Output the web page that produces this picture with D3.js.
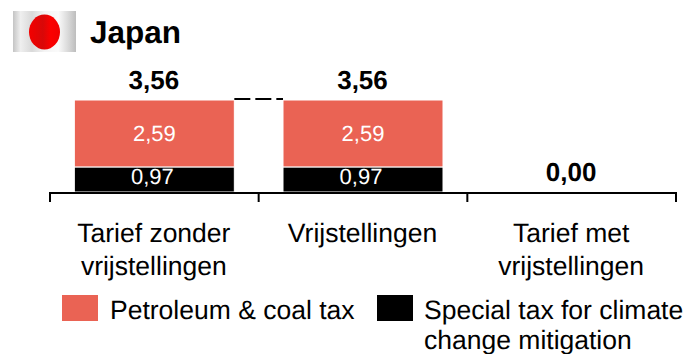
<!DOCTYPE html>
<html>
<head>
<meta charset="utf-8">
<script src="https://cdn.jsdelivr.net/npm/d3@7"></script>
<style>
  html, body { margin: 0; padding: 0; background: #fff; }
  svg { display: block; }
  text { font-family: "Liberation Sans", Arial, sans-serif; fill: #000; text-rendering: geometricPrecision; }
</style>
</head>
<body>
<div id="chart"></div>
<script>
var title = 'Japan';
var categories = ['Tarief zonder vrijstellingen', 'Vrijstellingen', 'Tarief met vrijstellingen'];
var categoryLines = [['Tarief zonder', 'vrijstellingen'], ['Vrijstellingen'], ['Tarief met', 'vrijstellingen']];
var seriesNames = ['Special tax for climate change mitigation', 'Petroleum & coal tax'];
var climateTax = [0.97, 0.97, 0];
var petroleumTax = [2.59, 2.59, 0];
var totals = [3.56, 3.56, 0];

var width = 687, height = 354;
var red = '#ea6354';
var fmt = function(v) { return d3.format('.2f')(v).replace('.', ','); };

var svg = d3.select('#chart').append('svg')
  .attr('width', width)
  .attr('height', height);

// flag
var defs = svg.append('defs');
var wave = defs.append('linearGradient').attr('id', 'wave');
[[0, '#c4c4c4'], [0.12, '#efefef'], [0.3, '#d9d9d9'], [0.5, '#f4f4f4'], [0.72, '#fafafa'], [0.88, '#d8d8d8'], [1, '#bdbdbd']]
  .forEach(function(s) { wave.append('stop').attr('offset', s[0]).attr('stop-color', s[1]); });
var sun = defs.append('linearGradient').attr('id', 'sun');
[[0, '#f40000'], [0.45, '#d80808'], [0.7, '#fb0000'], [1, '#f00000']]
  .forEach(function(s) { sun.append('stop').attr('offset', s[0]).attr('stop-color', s[1]); });
svg.append('rect').attr('x', 13).attr('y', 11).attr('width', 63).attr('height', 41).attr('fill', 'url(#wave)');
svg.append('ellipse').attr('cx', 44.5).attr('cy', 32).attr('rx', 15.5).attr('ry', 17.5).attr('fill', 'url(#sun)');

svg.append('text')
  .attr('x', 90).attr('y', 43)
  .style('font-size', '31.5px').style('font-weight', 'bold')
  .text(title);

// scales
var x = d3.scaleBand().domain(categories).range([50, 676]).paddingInner(0).paddingOuter(0);
var y = d3.scaleLinear().domain([0, 3.56]).range([192, 100]);
var barWidth = 160;
var barX = function(c) { return x(c) + (x.bandwidth() - barWidth) / 2; };

// stacked bars
var table = categories.map(function(c, i) {
  var row = { category: c };
  row[seriesNames[0]] = climateTax[i];
  row[seriesNames[1]] = petroleumTax[i];
  return row;
});
var stack = d3.stack().keys(seriesNames)(table);
var colors = d3.scaleOrdinal().domain(seriesNames).range(['#000', red]);

var layers = svg.selectAll('.layer')
  .data(stack)
  .enter().append('g')
  .attr('class', 'layer')
  .attr('fill', function(d) { return colors(d.key); });

layers.selectAll('rect')
  .data(function(d) { return d; })
  .enter().append('rect')
  .attr('x', function(d) { return barX(d.data.category); })
  .attr('y', function(d) { return y(d[1]); })
  .attr('width', barWidth)
  .attr('height', function(d) { return y(d[0]) - y(d[1]); })
  .attr('stroke', '#fff')
  .attr('stroke-width', function(d) { return d[1] > d[0] ? 1 : 0; });

// value labels inside the segments, the black ones sit a bit up and left
var labelDx = [-2, 0], labelDy = [4.5, 7.5];
layers.each(function(layer, li) {
  d3.select(this).selectAll('text')
    .data(layer.filter(function(d) { return d[1] > d[0]; }))
    .enter().append('text')
    .attr('x', function(d) { return barX(d.data.category) + barWidth / 2 + labelDx[li]; })
    .attr('y', function(d) { return (y(d[0]) + y(d[1])) / 2 + labelDy[li]; })
    .attr('text-anchor', 'middle')
    .style('font-size', '22px')
    .style('fill', '#fff')
    .text(function(d) { return fmt(d[1] - d[0]); });
});

// totals
svg.selectAll('.total')
  .data(categories)
  .enter().append('text')
  .attr('class', 'total')
  .attr('x', function(c) { return barX(c) + barWidth / 2 - 0.5; })
  .attr('y', function(c, i) { return y(totals[i]) - 11; })
  .attr('text-anchor', 'middle')
  .style('font-size', '26px').style('font-weight', 'bold')
  .text(function(c, i) { return fmt(totals[i]); });

// dashed connector between first two bars
svg.append('line')
  .attr('x1', barX(categories[0]) + barWidth)
  .attr('x2', barX(categories[1]))
  .attr('y1', y(totals[0]) - 1)
  .attr('y2', y(totals[1]) - 1)
  .attr('stroke', '#000')
  .attr('stroke-width', 1.8)
  .attr('stroke-dasharray', '16 5');

// x axis with ticks on the band edges
var axis = svg.append('g').attr('class', 'axis');
axis.append('line')
  .attr('x1', x.range()[0]).attr('x2', x.range()[1])
  .attr('y1', y(0) + 1).attr('y2', y(0) + 1)
  .attr('stroke', '#000').attr('stroke-width', 2);
axis.selectAll('.tick')
  .data(categories.map(function(c) { return x(c); }).concat(x.range()[1]))
  .enter().append('line')
  .attr('class', 'tick')
  .attr('x1', function(d) { return d; }).attr('x2', function(d) { return d; })
  .attr('y1', y(0)).attr('y2', y(0) + 10)
  .attr('stroke', '#000').attr('stroke-width', 2);

// category labels
svg.selectAll('.cat')
  .data(categories)
  .enter().append('text')
  .attr('class', 'cat')
  .attr('text-anchor', 'middle')
  .style('font-size', '26.5px')
  .each(function(c, i) {
    d3.select(this).selectAll('tspan')
      .data(categoryLines[i])
      .enter().append('tspan')
      .attr('x', x(c) + x.bandwidth() / 2 - 0.5)
      .attr('y', function(d, j) { return 242 + j * 33; })
      .text(function(d) { return d; });
  });

// legend
var legend = svg.append('g').attr('class', 'legend').style('font-size', '26.5px');
legend.append('rect').attr('x', 62).attr('y', 295).attr('width', 36).attr('height', 26).attr('fill', colors(seriesNames[1]));
legend.append('text').attr('x', 110).attr('y', 319).text(seriesNames[1]);
legend.append('rect').attr('x', 377).attr('y', 295).attr('width', 36).attr('height', 26).attr('fill', colors(seriesNames[0]));
legend.append('text').attr('x', 424).attr('y', 319).text('Special tax for climate');
legend.append('text').attr('x', 424).attr('y', 349).text('change mitigation');
</script>
</body>
</html>
